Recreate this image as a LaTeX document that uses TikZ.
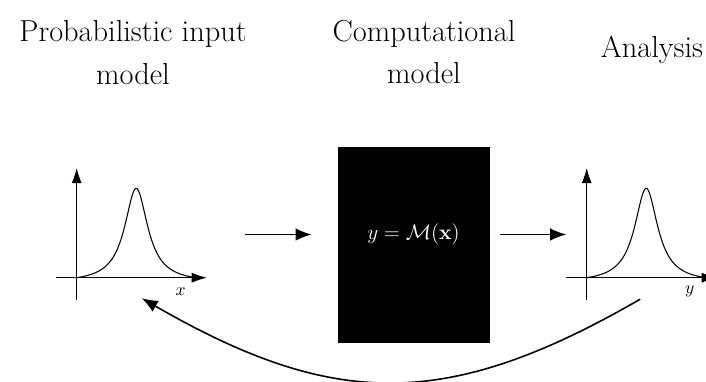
\documentclass[tikz,border=0pt]{standalone}
\usepackage{amsmath,amssymb}
\usepackage{xcolor}
\usepackage{tikz}
\usetikzlibrary{arrows.meta, positioning, calc}

\begin{document}
\begin{tikzpicture}[
    title/.style={font=\fontsize{17.28}{24.4}\selectfont, align=center},
    axis/.style={-{Latex[length=3mm,width=2mm]}, line width=0.4pt},
    density/.style={line width=0.6pt, smooth, samples=90, domain=-1.19:1.19},
    flow/.style={-{Latex[length=3.2mm,width=2.5mm]}, line width=0.9pt},
    modelbox/.style={rectangle, fill=black, minimum width=3.04cm, minimum height=3.91cm, inner sep=0pt},
    declare function={bump(\t)=1.79*(1/(1+(\t/0.28)^2)-0.0524)/0.9476;}
]
\useasboundingbox (0,0) rectangle (14.12,7.62);

\node[title] (inputtitle) at (2.66,6.56) {Probabilistic input\\model};
\node[title] (comptitle) at (8.48,6.58) {Computational\\model};
\node[title] (analysistitle) at (13.04,6.62) {Analysis};

\node[modelbox] (model) at (8.27,2.72) {};
\node[text=white, font=\fontsize{13}{16}\selectfont] (eq) at (8.27,2.93) {$y=\mathcal{M}(\mathbf{x})$};

\begin{scope}[shift={(1.534,2.066)}]
  \draw[axis] (-0.41,0) -- (2.6,0);
  \draw[axis] (0,-0.45) -- (0,2.19);
  \draw[density] plot ({\x+1.19},{bump(\x)});
  \node (xlabel) at (2.08,-0.28) {$x$};
  \coordinate (inplot) at (2.6,0.87);
  \coordinate (fbend) at (1.30,-0.41);
\end{scope}

\begin{scope}[shift={(11.734,2.066)}]
  \draw[axis] (-0.41,0) -- (2.6,0);
  \draw[axis] (0,-0.45) -- (0,2.19);
  \draw[density] plot ({\x+1.19},{bump(\x)});
  \node (ylabel) at (2.06,-0.28) {$y$};
  \coordinate (outplot) at (-0.41,0.87);
  \coordinate (fbstart) at (1.07,-0.43);
\end{scope}

\draw[flow, shorten <=0.77cm, shorten >=0.51cm] (inplot |- eq) -- (model.west |- eq);
\draw[flow, shorten <=0.21cm] (model.east |- eq) -- (outplot |- eq);
\draw[flow] (fbstart) to[out=-150, in=-30, looseness=1.14] (fbend);
\end{tikzpicture}
\end{document}
